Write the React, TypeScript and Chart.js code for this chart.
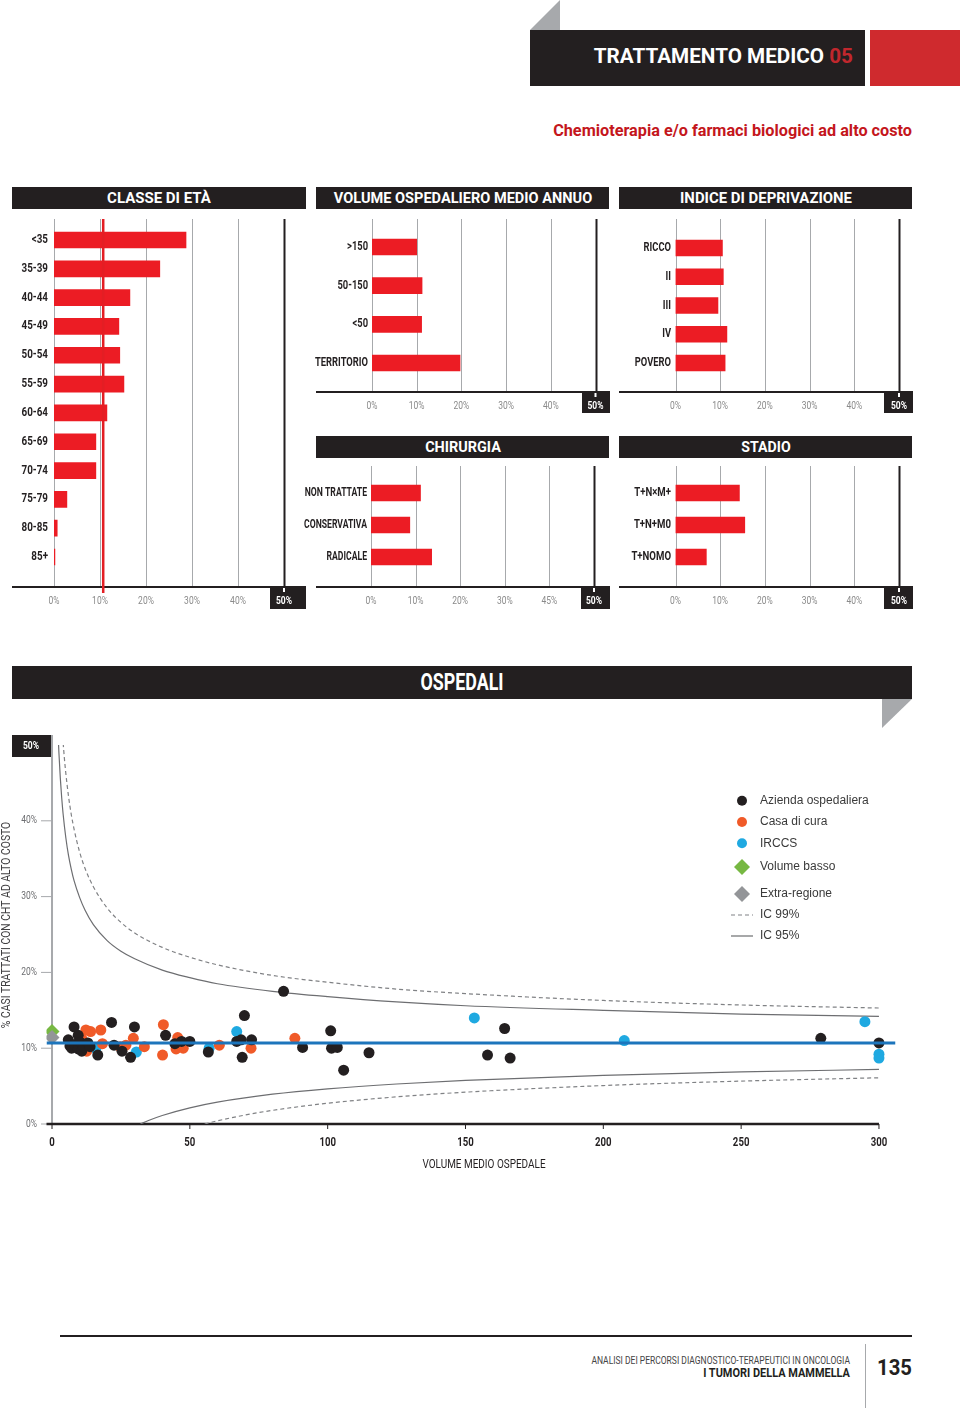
import React, { useEffect, useLayoutEffect, useRef, useState } from "react";
import { Chart, registerables } from "chart.js";
Chart.register(...registerables);

// ---------------- DATA ----------------
const ageLabels = ["<35", "35-39", "40-44", "45-49", "50-54", "55-59", "60-64", "65-69", "70-74", "75-79", "80-85", "85+"];
const ageValues = [28.7, 23.0, 16.5, 14.1, 14.3, 15.2, 11.5, 9.1, 9.1, 2.8, 0.7, 0.2];
const ageMean = 10.7;

const volumeLabels = [">150", "50-150", "<50", "TERRITORIO"];
const volumeValues = [10.0, 11.2, 11.1, 19.7];

const deprivLabels = ["RICCO", "II", "III", "IV", "POVERO"];
const deprivValues = [10.5, 10.7, 9.5, 11.5, 11.1];

const surgeryLabels = ["NON TRATTATE", "CONSERVATIVA", "RADICALE"];
const surgeryValues = [11.1, 8.7, 13.6];

const stageLabels = ["T+N×M+", "T+N+M0", "T+NOMO"];
const stageValues = [14.3, 15.5, 6.9];

const barTickLabels = ["0%", "10%", "20%", "30%", "40%", "50%"];
const surgeryTickLabels = ["0%", "10%", "20%", "30%", "45%", "50%"];

// Scatter: [volume, %]
const aziendaPoints = [
  [5.9, 11.1], [6.5, 10.3], [7.1, 10.0], [8.0, 12.8], [8.3, 10.5], [9.5, 11.7], [9.5, 9.9], [10.2, 10.8],
  [10.8, 9.6], [11.4, 10.2], [13.0, 10.7], [13.8, 10.2], [16.6, 9.1], [21.6, 13.4], [22.5, 10.4], [25.4, 9.6],
  [28.5, 8.8], [29.9, 12.8], [41.2, 11.7], [44.6, 10.6], [47.0, 10.9], [50.0, 10.9], [56.7, 9.5], [67.0, 10.9],
  [68.6, 11.1], [69.0, 8.8], [69.8, 14.3], [72.4, 11.1], [84.0, 17.5], [90.9, 10.1], [101.1, 12.3], [101.4, 10.0],
  [103.5, 10.1], [105.8, 7.1], [115.0, 9.4], [158.0, 9.1], [164.2, 12.6], [166.2, 8.7], [278.9, 11.3], [300.0, 10.7],
];
const casaCuraPoints = [
  [10.9, 11.2], [12.3, 12.4], [12.6, 9.6], [14.0, 12.2], [17.7, 12.4], [18.3, 10.6], [24.7, 10.2], [26.8, 10.4],
  [29.5, 11.3], [33.5, 10.2], [40.4, 13.1], [40.1, 9.1], [45.6, 11.4], [45.0, 9.9], [47.6, 10.0], [60.7, 10.4],
  [72.2, 10.0], [88.1, 11.3],
];
const irccsPoints = [
  [15.9, 9.9], [30.6, 9.5], [57.0, 10.0], [67.0, 12.2], [153.2, 14.0], [207.6, 11.0], [294.9, 13.5], [300.0, 9.2], [300.0, 8.7],
];
const volumeBassoPoints = [[0, 12.2]];
const extraRegionePoints = [[0, 11.4]];
const meanRate = 10.7;
const meanLineRange = [-2, 306];

const ic95UpperX = [2.3, 2.5, 3, 3.5, 4, 5, 6, 7, 8, 10, 12, 15, 20, 25, 30, 40, 50, 60, 80, 100, 125, 150, 200, 250, 300];
const ic95UpperY = [50.7, 49.0, 45.7, 43.1, 41.0, 37.8, 35.4, 33.6, 32.1, 29.9, 28.2, 26.3, 24.2, 22.8, 21.8, 20.3, 19.3, 18.5, 17.5, 16.8, 16.1, 15.6, 15.0, 14.5, 14.2];
const ic99UpperX = [3.7, 4, 4.5, 5, 6, 7, 8, 10, 12, 15, 20, 25, 30, 40, 50, 60, 80, 100, 125, 150, 200, 250, 300];
const ic99UpperY = [52.1, 50.5, 48.2, 46.3, 43.2, 40.8, 38.9, 35.9, 33.7, 31.3, 28.5, 26.6, 25.2, 23.3, 22.0, 21.0, 19.6, 18.7, 17.8, 17.2, 16.3, 15.7, 15.3];
const ic95LowerX = [32.1, 33, 35, 40, 50, 60, 80, 100, 125, 150, 200, 250, 300];
const ic95LowerY = [0, 0.15, 0.46, 1.12, 2.13, 2.88, 3.93, 4.64, 5.28, 5.75, 6.42, 6.87, 7.2];
const ic99LowerX = [55.4, 56, 60, 70, 80, 100, 125, 150, 200, 250, 300];
const ic99LowerY = [0, 0.06, 0.42, 1.18, 1.8, 2.74, 3.58, 4.2, 5.07, 5.66, 6.1];

const xTickValues = [0, 50, 100, 150, 200, 250, 300];
const yTickValues = [0, 10, 20, 30, 40];
const legendLabels = ["Azienda ospedaliera", "Casa di cura", "IRCCS", "Volume basso", "Extra-regione", "IC 99%", "IC 95%"];

// ---------------- STYLE ----------------
const FONT = 'Roboto, "Liberation Sans", sans-serif';
const HELV = '"Liberation Sans", Arial, sans-serif';
const INK = "#231f20";
const RED = "#ec1c24";
const C_BLACK = "#231f20";
const C_ORANGE = "#f05a28";
const C_BLUE = "#1fa9e1";
const C_GREEN = "#77b843";
const C_GRAY = "#939598";

function txt(ctx: any, s: string, x: number, y: number, font: string, color: string, align: any, sx = 1) {
  ctx.save();
  ctx.translate(x, y);
  ctx.scale(sx, 1);
  ctx.font = font;
  ctx.fillStyle = color;
  ctx.textAlign = align;
  ctx.textBaseline = "middle";
  ctx.fillText(s, 0, 0);
  ctx.restore();
}

const toXY = (arr: number[][]) => arr.map((p) => ({ x: p[0], y: p[1] }));
const zipXY = (xs: number[], ys: number[]) => xs.map((x, i) => ({ x, y: ys[i] }));

function FitText({ x, y, w, size, weight = 700, color = "#fff", family = FONT, align = "center", children }: any) {
  const ref = useRef<HTMLSpanElement>(null);
  const [k, setK] = useState(1);
  useLayoutEffect(() => {
    if (ref.current) {
      const nw = ref.current.offsetWidth;
      if (nw > 0) setK(w / nw);
    }
  }, [w]);
  const tx = align === "center" ? "-50%" : align === "right" ? "-100%" : "0";
  return (
    <span
      ref={ref}
      style={{
        position: "absolute", left: x, top: y, whiteSpace: "nowrap", fontFamily: family, fontSize: size,
        fontWeight: weight, color, lineHeight: 1, transformOrigin: `${align} center`,
        transform: `translate(${tx}, -50%) scaleX(${k})`,
      }}
    >
      {children}
    </span>
  );
}

function Box({ x, y, w, h, bg = INK, clip }: any) {
  return <div style={{ position: "absolute", left: x, top: y, width: w, height: h, background: bg, clipPath: clip }} />;
}

// g.left/g.width: panel box; g.canvasLeft: where the canvas starts (labels may overflow left of the panel)
function BarPanel(g: any) {
  const ref = useRef<HTMLCanvasElement>(null);
  const cl = g.canvasLeft ?? g.left;
  const cw = g.left + g.width - cl;
  useEffect(() => {
    const band = (g.lastY - g.firstY) / (g.labels.length - 1);
    const padTop = g.firstY - band / 2 - g.top;
    const padBottom = g.top + g.height - (g.lastY + band / 2);
    const ox = cl, oy = g.top;
    const plugin = {
      id: "panelDeco",
      beforeDatasetsDraw(chart: any) {
        const ctx = chart.ctx, xs = chart.scales.x, ys = chart.scales.y;
        const gt = g.gridTop - oy, ay = g.axisY - oy, bb = g.boxBottom - oy, bl = g.boxLeft - ox, al = g.left - ox;
        ctx.save();
        for (let v = 0; v <= 50; v += 10) {
          const px = Math.round(xs.getPixelForValue(v)) + 0.5;
          ctx.beginPath();
          ctx.strokeStyle = v === 50 ? INK : "#a7a9ac";
          ctx.lineWidth = v === 50 ? 2 : 1;
          ctx.moveTo(px, gt);
          ctx.lineTo(px, ay);
          ctx.stroke();
        }
        ctx.fillStyle = INK;
        ctx.fillRect(al, ay - 1, bl - al, 2);
        ctx.fillRect(bl, ay - 1, cw - bl, bb - ay + 1);
        const p50 = xs.getPixelForValue(50);
        ctx.fillStyle = "#fff";
        ctx.fillRect(p50 - 1, ay + 1, 2, 4);
        g.ticks.forEach((t: string, i: number) => {
          const px = xs.getPixelForValue(i * 10);
          if (i === 5) txt(ctx, t, px, ay + 14, `bold 10px ${FONT}`, "#fff", "center", 0.85);
          else txt(ctx, t, px, ay + 14, `10px ${FONT}`, "#8a8a8a", "center", 0.85);
        });
        g.labels.forEach((l: string, i: number) => {
          txt(ctx, l, g.labelRight - ox, ys.getPixelForValue(i), `bold 12px ${FONT}`, INK, "right", g.labelScale ?? 0.8);
        });
        ctx.restore();
      },
      afterDatasetsDraw(chart: any) {
        if (g.mean == null) return;
        const ctx = chart.ctx, xs = chart.scales.x;
        const px = xs.getPixelForValue(g.mean);
        ctx.save();
        ctx.fillStyle = "#e31e24";
        ctx.fillRect(px - 1.25, g.gridTop - oy, 2.5, g.axisY - g.gridTop + 6);
        ctx.restore();
      },
    };
    const chart = new Chart(ref.current as any, {
      type: "bar",
      data: { labels: g.labels, datasets: [{ data: g.values, backgroundColor: RED, barThickness: 16 }] },
      options: {
        indexAxis: "y",
        animation: false,
        responsive: false,
        maintainAspectRatio: false,
        layout: { padding: { left: g.zeroX - ox, right: g.left + g.width - g.fullX, top: padTop, bottom: padBottom } },
        scales: { x: { display: false, min: 0, max: 50 }, y: { display: false } },
        plugins: { legend: { display: false }, tooltip: { enabled: false } },
      } as any,
      plugins: [plugin],
    });
    return () => chart.destroy();
  }, []);
  return (
    <canvas ref={ref} width={cw} height={g.height}
      style={{ position: "absolute", left: cl, top: g.top, width: cw, height: g.height }} />
  );
}

function FunnelChart() {
  const ref = useRef<HTMLCanvasElement>(null);
  useEffect(() => {
    const T = 730;
    const plugin = {
      id: "funnelDeco",
      beforeDatasetsDraw(chart: any) {
        const ctx = chart.ctx, xs = chart.scales.x, ys = chart.scales.y;
        ctx.save();
        const x0 = xs.getPixelForValue(0);
        const y0 = ys.getPixelForValue(0);
        ctx.fillStyle = "#a7a9ac";
        ctx.fillRect(x0 - 1, 735 - T, 2, y0 - (735 - T));
        yTickValues.forEach((v) => {
          const py = ys.getPixelForValue(v);
          ctx.fillStyle = "#a7a9ac";
          ctx.fillRect(41, py - 0.5, x0 - 41, 1);
          txt(ctx, `${v}%`, 37, py, `10px ${FONT}`, "#6d6e71", "right", 0.85);
        });
        ctx.fillStyle = INK;
        ctx.fillRect(12, 735 - T, 39, 22);
        txt(ctx, "50%", 31, 746 - T, `bold 10px ${FONT}`, "#fff", "center", 0.85);
        const xl = xs.getPixelForValue(-2), xr = xs.getPixelForValue(300);
        ctx.fillStyle = INK;
        ctx.fillRect(xl, y0 - 1.25, xr - xl, 2.5);
        xTickValues.forEach((v) => {
          const px = xs.getPixelForValue(v);
          ctx.fillStyle = INK;
          ctx.fillRect(px - 0.5, y0, 1, 5);
          txt(ctx, String(v), px, 1143 - T, `bold 12px ${FONT}`, INK, "center", 0.8);
        });
        txt(ctx, "VOLUME MEDIO OSPEDALE", 484, 1165 - T, `12px ${FONT}`, INK, "center", 0.83);
        ctx.save();
        ctx.translate(7, 925 - T);
        ctx.rotate(-Math.PI / 2);
        txt(ctx, "% CASI TRATTATI CON CHT AD ALTO COSTO", 0, 0, `12.5px ${FONT}`, "#414042", "center", 0.83);
        ctx.restore();
        ctx.restore();
      },
      afterDraw(chart: any) {
        const ctx = chart.ctx;
        const mx = 742, tx = 760;
        const ys = [800.7, 822, 843.3, 867, 894, 915, 936].map((v) => v - T);
        ctx.save();
        const dot = (y: number, c: string) => {
          ctx.beginPath(); ctx.fillStyle = c; ctx.arc(mx, y, 5, 0, Math.PI * 2); ctx.fill();
        };
        const diamond = (y: number, c: string) => {
          ctx.beginPath(); ctx.fillStyle = c;
          ctx.moveTo(mx, y - 8); ctx.lineTo(mx + 8, y); ctx.lineTo(mx, y + 8); ctx.lineTo(mx - 8, y); ctx.closePath(); ctx.fill();
        };
        dot(ys[0], C_BLACK); dot(ys[1], C_ORANGE); dot(ys[2], C_BLUE);
        diamond(ys[3], C_GREEN); diamond(ys[4], C_GRAY);
        ctx.strokeStyle = "#808285"; ctx.lineWidth = 1.2;
        ctx.setLineDash([4, 3]);
        ctx.beginPath(); ctx.moveTo(731, ys[5]); ctx.lineTo(753, ys[5]); ctx.stroke();
        ctx.setLineDash([]);
        ctx.strokeStyle = "#6d6e71";
        ctx.beginPath(); ctx.moveTo(731, ys[6]); ctx.lineTo(753, ys[6]); ctx.stroke();
        legendLabels.forEach((l, i) => txt(ctx, l, tx, ys[i], `12px ${HELV}`, "#3a3a3a", "left", 1));
        ctx.restore();
      },
    };
    const curve = (xs: number[], ysv: number[], dashed: boolean) => ({
      type: "line",
      data: zipXY(xs, ysv),
      showLine: true,
      borderColor: dashed ? "#808285" : "#6d6e71",
      borderWidth: 1.2,
      borderDash: dashed ? [4, 3] : [],
      pointRadius: 0,
      cubicInterpolationMode: "monotone",
      order: 5,
    });
    const pts = (arr: number[][], color: string, order: number, style = "circle", r = 5.5) => ({
      data: toXY(arr),
      backgroundColor: color,
      borderColor: color,
      borderWidth: 0,
      pointRadius: r,
      pointStyle: style,
      order,
    });
    const chart = new Chart(ref.current as any, {
      type: "scatter",
      data: {
        datasets: [
          {
            type: "line",
            data: meanLineRange.map((x) => ({ x, y: meanRate })),
            showLine: true,
            borderColor: "#1c75bc",
            borderWidth: 3,
            pointRadius: 0,
            order: 0,
          },
          pts(aziendaPoints, C_BLACK, 1),
          pts(casaCuraPoints, C_ORANGE, 1),
          pts(irccsPoints, C_BLUE, 1),
          pts(extraRegionePoints, C_GRAY, 1, "rectRot", 7.5),
          pts(volumeBassoPoints, C_GREEN, 2, "rectRot", 7.5),
          curve(ic95UpperX, ic95UpperY, false),
          curve(ic95LowerX, ic95LowerY, false),
          curve(ic99UpperX, ic99UpperY, true),
          curve(ic99LowerX, ic99LowerY, true),
        ] as any,
      },
      options: {
        animation: false,
        responsive: false,
        maintainAspectRatio: false,
        layout: { padding: { left: 46.5, right: 64.5, top: 15, bottom: 56 } },
        scales: {
          x: { type: "linear", display: false, min: -2, max: 306 },
          y: { type: "linear", display: false, min: 0, max: 50 },
        },
        plugins: { legend: { display: false }, tooltip: { enabled: false } },
      } as any,
      plugins: [plugin],
    });
    return () => chart.destroy();
  }, []);
  return <canvas ref={ref} width={960} height={450} style={{ position: "absolute", left: 0, top: 730, width: 960, height: 450 }} />;
}

export default function App() {
  return (
    <div style={{ position: "absolute", left: 0, top: 0, width: 960, height: 1408, background: "#fff", overflow: "hidden" }}>
      {/* Page header */}
      <Box x={530} y={0} w={30} h={30} bg="#a7a9ac" clip="polygon(0 100%, 100% 0, 100% 100%)" />
      <Box x={530} y={30} w={335} h={56} />
      <Box x={870} y={30} w={90} h={56} bg="#cf2a2e" />
      <FitText x={852.7} y={56} w={259} size={21} align="right">
        TRATTAMENTO MEDICO <span style={{ color: "#c1272d" }}>05</span>
      </FitText>
      <FitText x={912} y={130} w={359} size={17} align="right" color="#c4161c">
        Chemioterapia e/o farmaci biologici ad alto costo
      </FitText>

      {/* Panel headers */}
      <Box x={12} y={187} w={294} h={22} />
      <FitText x={159} y={198} w={104} size={15}>CLASSE DI ETÀ</FitText>
      <Box x={316} y={187} w={293} h={22} />
      <FitText x={462.5} y={198} w={258} size={15}>VOLUME OSPEDALIERO MEDIO ANNUO</FitText>
      <Box x={619} y={187} w={293} h={22} />
      <FitText x={765.8} y={198} w={172} size={15}>INDICE DI DEPRIVAZIONE</FitText>
      <Box x={316} y={436} w={293} h={22} />
      <FitText x={462.5} y={447} w={76} size={15}>CHIRURGIA</FitText>
      <Box x={619} y={436} w={293} h={22} />
      <FitText x={765.8} y={447} w={49} size={15}>STADIO</FitText>

      <BarPanel left={12} top={214} width={294} height={400} labels={ageLabels} values={ageValues} ticks={barTickLabels}
        zeroX={54} fullX={284} firstY={240} lastY={557} gridTop={219} axisY={587} boxLeft={270} boxBottom={609} labelRight={48} mean={ageMean} labelScale={0.82} />
      <BarPanel left={316} canvasLeft={290} top={214} width={294} height={206} labels={volumeLabels} values={volumeValues} ticks={barTickLabels}
        zeroX={372} fullX={595.5} firstY={247} lastY={363} gridTop={219} axisY={392} boxLeft={582} boxBottom={413} labelRight={368} labelScale={0.78} />
      <BarPanel left={619} canvasLeft={600} top={214} width={294} height={206} labels={deprivLabels} values={deprivValues} ticks={barTickLabels}
        zeroX={675.5} fullX={899} firstY={248} lastY={363} gridTop={219} axisY={392} boxLeft={884} boxBottom={413} labelRight={671} labelScale={0.78} />
      <BarPanel left={316} canvasLeft={290} top={460} width={294} height={155} labels={surgeryLabels} values={surgeryValues} ticks={surgeryTickLabels}
        zeroX={371} fullX={594} firstY={493} lastY={557} gridTop={466} axisY={587} boxLeft={581} boxBottom={609} labelRight={367} labelScale={0.72} />
      <BarPanel left={619} canvasLeft={600} top={460} width={294} height={155} labels={stageLabels} values={stageValues} ticks={barTickLabels}
        zeroX={675.5} fullX={899} firstY={493} lastY={557} gridTop={466} axisY={587} boxLeft={884} boxBottom={609} labelRight={671} labelScale={0.8} />

      {/* Ospedali */}
      <Box x={12} y={666} w={900} h={33} />
      <FitText x={462} y={682} w={83} size={23}>OSPEDALI</FitText>
      <Box x={882} y={699} w={30} h={29} bg="#a7a9ac" clip="polygon(0 0, 100% 0, 0 100%)" />
      <FunnelChart />

      {/* Footer */}
      <Box x={60} y={1335} w={852} h={2} />
      <Box x={865} y={1344} w={1} h={64} bg="#a7a9ac" />
      <FitText x={850} y={1361} w={259} size={10.5} weight={400} color="#444" align="right">
        ANALISI DEI PERCORSI DIAGNOSTICO-TERAPEUTICI IN ONCOLOGIA
      </FitText>
      <FitText x={850} y={1373} w={147} size={12} color={INK} align="right">I TUMORI DELLA MAMMELLA</FitText>
      <FitText x={877} y={1368} w={35} size={22} color={INK} align="left">135</FitText>
    </div>
  );
}
